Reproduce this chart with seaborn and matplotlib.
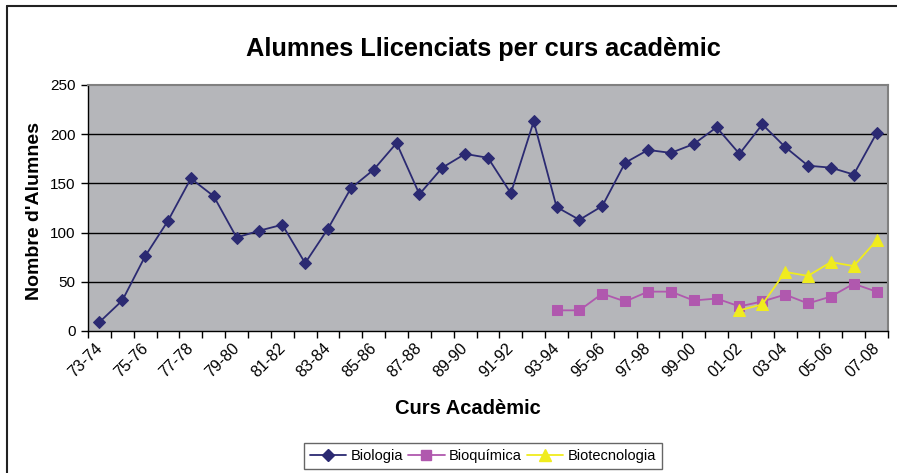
import numpy as np
import pandas as pd
import matplotlib
matplotlib.use("Agg")
import matplotlib.pyplot as plt
import matplotlib.transforms as mtransforms
import seaborn as sns
from matplotlib.lines import Line2D

cursos = ["73-74", "74-75", "75-76", "76-77", "77-78", "78-79", "79-80", "80-81",
          "81-82", "82-83", "83-84", "84-85", "85-86", "86-87", "87-88", "88-89",
          "89-90", "90-91", "91-92", "92-93", "93-94", "94-95", "95-96", "96-97",
          "97-98", "98-99", "99-00", "00-01", "01-02", "02-03", "03-04", "04-05",
          "05-06", "06-07", "07-08"]

biologia = [9, 31, 76, 112, 155, 137, 95, 102, 108, 69, 104, 145, 164, 191, 139,
            166, 180, 176, 140, 213, 126, 113, 127, 171, 184, 181, 190, 207, 180,
            210, 187, 168, 166, 159, 201]

bioquimica = [np.nan] * 20 + [21, 21, 38, 30, 40, 40, 31, 33, 25, 30, 37, 28, 35, 48, 40]

biotecnologia = [np.nan] * 28 + [21, 27, 60, 56, 70, 66, 92]

series_names = ["Biologia", "Bioquímica", "Biotecnologia"]
series_vals = [biologia, bioquimica, biotecnologia]
colors = ["#2B2A72", "#B058AE", "#F0EC1E"]
markers = ["D", "s", "^"]
msizes = [6.5, 7, 8]

y_ticks = [0, 50, 100, 150, 200, 250]

sns.set_theme(style="white")
plt.rcParams["font.family"] = ["Liberation Sans", "DejaVu Sans"]
plt.rcParams["text.color"] = "black"
plt.rcParams["xtick.color"] = "black"
plt.rcParams["ytick.color"] = "black"
plt.rcParams["axes.labelcolor"] = "black"

fig = plt.figure(figsize=(8.97, 4.73), dpi=100)
ax = fig.add_axes([88 / 897, 142 / 473, 800 / 897, 246 / 473])
ax.set_facecolor("#B5B6BA")

x = np.arange(len(cursos))
handles = []
for name, vals, c, m, ms in zip(series_names, series_vals, colors, markers, msizes):
    df = pd.DataFrame({"x": x, "y": vals}).dropna()
    sns.lineplot(data=df, x="x", y="y", ax=ax, color=c, marker=m, markersize=ms,
                 markeredgecolor=c, linewidth=1.3, legend=False)
    handles.append(Line2D([0], [0], color=c, marker=m, markersize=ms,
                          markeredgecolor=c, linewidth=1.3, label=name))

ax.set_xlim(-0.5, len(cursos) - 0.5)
ax.set_ylim(0, 250)
ax.set_yticks(y_ticks)
ax.set_yticklabels([str(v) for v in y_ticks], fontsize=11)
for v in y_ticks[1:-1]:
    ax.axhline(v, color="black", linewidth=1.0, zorder=0.5)

# major ticks at category boundaries, labels on every other category center
ax.set_xticks(np.arange(-0.5, len(cursos), 1.0))
ax.set_xticklabels([])
ax.set_xticks(x[::2], minor=True)
ax.set_xticklabels([cursos[i] for i in x[::2]], minor=True, rotation=45,
                   ha="right", rotation_mode="anchor", fontsize=11.5)
ax.tick_params(axis="x", which="major", direction="out", length=5, width=1, color="black",
               bottom=True)
ax.tick_params(axis="x", which="minor", length=0, pad=7, bottom=True, labelcolor="black")
ax.tick_params(axis="y", direction="out", length=5, width=1, color="black", left=True, pad=4,
               labelcolor="black")
offset = mtransforms.ScaledTranslation(-5 / 100, 0, fig.dpi_scale_trans)
for lab in ax.get_xticklabels(minor=True):
    lab.set_transform(lab.get_transform() + offset)

for s in ["top", "right"]:
    ax.spines[s].set_color("#808080")
    ax.spines[s].set_linewidth(1.5)
for s in ["left", "bottom"]:
    ax.spines[s].set_color("black")
    ax.spines[s].set_linewidth(1.0)

ax.set_xlabel("")
ax.set_ylabel("")
fig.text(0.5 * (245 + 722) / 897, 1 - 49 / 473, "Alumnes Llicenciats per curs acadèmic",
         ha="center", va="center", fontsize=18.3, fontweight="bold", color="black")
fig.text(35 / 897, 1 - 211 / 473, "Nombre d'Alumnes", rotation=90,
         ha="center", va="center", fontsize=14, fontweight="bold", color="black")
fig.text(468 / 897, 1 - 408 / 473, "Curs Acadèmic", ha="center", va="center",
         fontsize=14.5, fontweight="bold", color="black")

leg = fig.legend(handles=handles, loc="center", bbox_to_anchor=(483 / 897, 1 - 456 / 473),
                 ncol=3, frameon=True, fontsize=10.5, handlelength=2.5,
                 columnspacing=0.35, handletextpad=0.3, borderpad=0.4, fancybox=False)
leg.get_frame().set_edgecolor("#404040")
leg.get_frame().set_linewidth(1.0)
for t in leg.get_texts():
    t.set_color("black")

# outer chart border (top and left)
fig.add_artist(Line2D([7 / 897, 1], [1 - 6 / 473, 1 - 6 / 473], color="#222222",
                      linewidth=1.5, transform=fig.transFigure))
fig.add_artist(Line2D([7 / 897, 7 / 897], [0, 1 - 6 / 473], color="#222222",
                      linewidth=1.5, transform=fig.transFigure))

fig.savefig("out.png", dpi=100, facecolor="white")
